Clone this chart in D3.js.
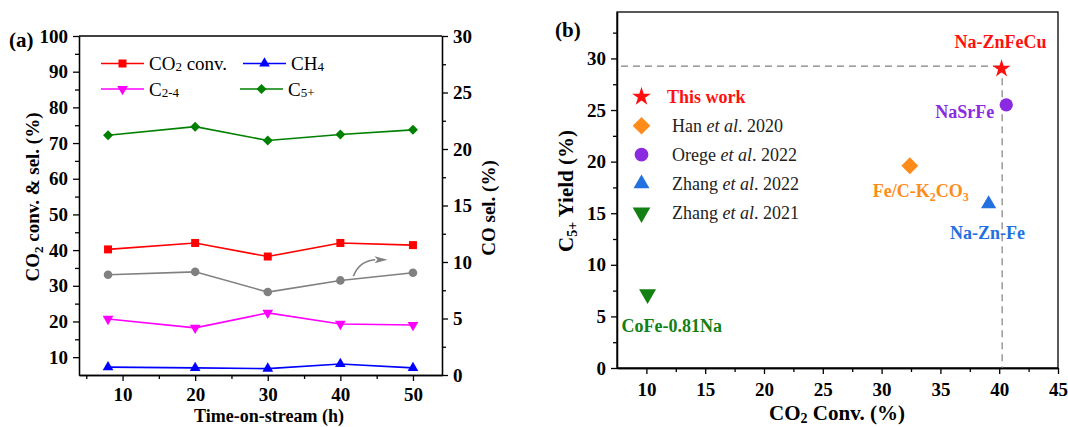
<!DOCTYPE html>
<html>
<head>
<meta charset="utf-8">
<script src="https://cdn.jsdelivr.net/npm/d3@7"></script>
<style>
  body { margin: 0; background: #fff; }
  svg { font-family: "Liberation Serif", "Times New Roman", serif; }
  .axis path, .axis line { stroke: #000; stroke-width: 1.3; }
  .axis text { font-size: 19px; font-weight: bold; fill: #000; font-family: "Liberation Serif", "Times New Roman", serif; }
</style>
</head>
<body>
<div id="chart"></div>
<script>
// panel (a) data: time on stream vs conversion / selectivity
var hours = [8, 20, 30, 40, 50];
var co2Conv = [40.2, 42.0, 38.2, 42.0, 41.4];
var ch4Sel = [7.2, 7.0, 6.8, 8.1, 7.0];
var c24Sel = [20.7, 18.2, 22.4, 19.3, 19.0];
var c5Sel = [72.2, 74.6, 70.7, 72.4, 73.7];
var coSel = [8.87, 9.13, 7.34, 8.37, 9.05]; // right axis

var xTicksA = [10, 20, 30, 40, 50];
var yTicksA = [10, 20, 30, 40, 50, 60, 70, 80, 90, 100];
var y2TicksA = [0, 5, 10, 15, 20, 25, 30];

// panel (b) data: literature comparison (same order as legend)
var catalysts = ["Na-ZnFeCu", "Fe/C-K2CO3", "NaSrFe", "Na-Zn-Fe", "CoFe-0.81Na"];
var references = ["This work", "Han et al. 2020", "Orege et al. 2022", "Zhang et al. 2022", "Zhang et al. 2021"];
var coConv = [40.2, 32.4, 40.6, 39.1, 10.1];
var c5Yield = [29.0, 19.6, 25.5, 15.9, 7.15];

var xTicksB = [10, 15, 20, 25, 30, 35, 40, 45];
var yTicksB = [0, 5, 10, 15, 20, 25, 30];

(function() {
  var width = 1068, height = 427;

  var svg = d3.select("#chart")
    .append("svg")
    .attr("width", width)
    .attr("height", height);

  function marker(g, x, y, type, size, rot, color) {
    g.append("path")
      .attr("d", d3.symbol().type(type).size(size)())
      .attr("transform", "translate(" + x + "," + y + ")" + (rot ? " rotate(" + rot + ")" : ""))
      .attr("fill", color);
  }

  // ===================== panel (a) =====================
  var xA = d3.scaleLinear().domain([4, 54]).range([79, 442]);
  var yA = d3.scaleLinear().domain([5, 100]).range([375, 36]);
  var yA2 = d3.scaleLinear().domain([0, 30]).range([375, 36]);

  var ga = svg.append("g");

  // frame top
  ga.append("line")
    .attr("x1", xA.range()[0]).attr("x2", xA.range()[1])
    .attr("y1", 36).attr("y2", 36)
    .attr("stroke", "#000").attr("stroke-width", 1.3);

  ga.append("g").attr("class", "axis")
    .attr("transform", "translate(0,375)")
    .call(d3.axisBottom(xA).tickValues(xTicksA).tickSize(6).tickSizeOuter(0).tickPadding(7));
  ga.append("g").attr("class", "axis")
    .attr("transform", "translate(0,375)")
    .call(d3.axisBottom(xA).tickValues([5, 15, 25, 35, 45]).tickSize(4).tickSizeOuter(0).tickFormat(""));

  ga.append("g").attr("class", "axis")
    .attr("transform", "translate(79,0)")
    .call(d3.axisLeft(yA).tickValues(yTicksA).tickSize(6).tickSizeOuter(0).tickPadding(5));
  ga.append("g").attr("class", "axis")
    .attr("transform", "translate(79,0)")
    .call(d3.axisLeft(yA).tickValues(d3.range(15, 100, 10)).tickSize(4).tickSizeOuter(0).tickFormat(""));

  ga.append("g").attr("class", "axis")
    .attr("transform", "translate(442,0)")
    .call(d3.axisRight(yA2).tickValues(y2TicksA).tickSize(6).tickSizeOuter(0).tickPadding(5));
  ga.append("g").attr("class", "axis")
    .attr("transform", "translate(442,0)")
    .call(d3.axisRight(yA2).tickValues(d3.range(2.5, 30, 5)).tickSize(4).tickSizeOuter(0).tickFormat(""));

  var seriesA = [
    { vals: co2Conv, scale: yA, color: "#ff0000", type: d3.symbolSquare, size: 64, rot: 0 },
    { vals: coSel, scale: yA2, color: "#808080", type: d3.symbolCircle, size: 58, rot: 0 },
    { vals: c24Sel, scale: yA, color: "#ff00ff", type: d3.symbolTriangle, size: 50, rot: 180 },
    { vals: ch4Sel, scale: yA, color: "#0000ff", type: d3.symbolTriangle, size: 50, rot: 0 },
    { vals: c5Sel, scale: yA, color: "#008000", type: d3.symbolSquare, size: 50, rot: 45 }
  ];

  seriesA.forEach(function(s) {
    var line = d3.line()
      .x(function(d, i) { return xA(hours[i]); })
      .y(function(d) { return s.scale(d); });
    ga.append("path")
      .datum(s.vals)
      .attr("d", line)
      .attr("fill", "none")
      .attr("stroke", s.color)
      .attr("stroke-width", 1.6);
    s.vals.forEach(function(d, i) {
      marker(ga, xA(hours[i]), s.scale(d), s.type, s.size, s.rot, s.color);
    });
  });

  // curved arrow pointing to right axis
  var p0 = [xA(41.8), yA2(8.75)], pc = [xA(42.6), yA2(10.1)], p1 = [xA(44.8), yA2(10.2)];
  var ap = d3.path();
  ap.moveTo(p0[0], p0[1]);
  ap.quadraticCurveTo(pc[0], pc[1], p1[0], p1[1]);
  ga.append("path").attr("d", ap.toString())
    .attr("fill", "none").attr("stroke", "#808080").attr("stroke-width", 1.6);
  var tip = [xA(46.5), yA2(10.2)];
  ga.append("path")
    .attr("d", "M" + tip[0] + "," + tip[1] +
      " L" + (tip[0] - 13) + "," + (tip[1] - 3.5) +
      " L" + (tip[0] - 10) + "," + tip[1] +
      " L" + (tip[0] - 13) + "," + (tip[1] + 3.5) + " Z")
    .attr("fill", "#808080");

  // legend (a)
  var legA = [
    { x: 101, y: 63.5, color: "#ff0000", type: d3.symbolSquare, size: 64, rot: 0, main: "CO", sub: "2", rest: " conv." },
    { x: 243, y: 63.5, color: "#0000ff", type: d3.symbolTriangle, size: 50, rot: 0, main: "CH", sub: "4", rest: "" },
    { x: 101, y: 89, color: "#ff00ff", type: d3.symbolTriangle, size: 50, rot: 180, main: "C", sub: "2-4", rest: "" },
    { x: 240, y: 89, color: "#008000", type: d3.symbolSquare, size: 50, rot: 45, main: "C", sub: "5+", rest: "" }
  ];
  legA.forEach(function(l) {
    ga.append("line")
      .attr("x1", l.x).attr("x2", l.x + 43)
      .attr("y1", l.y).attr("y2", l.y)
      .attr("stroke", l.color).attr("stroke-width", 1.6);
    marker(ga, l.x + 21.5, l.y, l.type, l.size, l.rot, l.color);
    var t = ga.append("text")
      .attr("x", l.x + 48).attr("y", l.y + 6.5)
      .attr("font-size", 19).attr("fill", "#000");
    t.append("tspan").text(l.main);
    t.append("tspan").attr("font-size", 13).attr("dy", 1).text(l.sub);
    if (l.rest) t.append("tspan").attr("dy", -1).text(l.rest);
  });

  // titles (a)
  svg.append("text").attr("x", 9).attr("y", 47)
    .attr("font-size", 21).attr("font-weight", "bold").text("(a)");

  var tl = svg.append("text")
    .attr("transform", "translate(39,197) rotate(-90)")
    .attr("text-anchor", "middle")
    .attr("font-size", 19).attr("font-weight", "bold");
  tl.append("tspan").text("CO");
  tl.append("tspan").attr("font-size", 13).attr("dy", 4).text("2");
  tl.append("tspan").attr("dy", -4).text(" conv. & sel. (%)");

  svg.append("text")
    .attr("transform", "translate(495,208) rotate(-90)")
    .attr("text-anchor", "middle")
    .attr("font-size", 19).attr("font-weight", "bold")
    .text("CO sel. (%)");

  svg.append("text")
    .attr("x", 269).attr("y", 422)
    .attr("text-anchor", "middle")
    .attr("font-size", 18).attr("font-weight", "bold")
    .text("Time-on-stream (h)");

  // ===================== panel (b) =====================
  var xB = d3.scaleLinear().domain([7.5, 45]).range([617, 1058]);
  var yB = d3.scaleLinear().domain([0, 34.5]).range([368, 12]);

  var gb = svg.append("g");

  gb.append("rect")
    .attr("x", 617).attr("y", 12)
    .attr("width", 1058 - 617).attr("height", 368 - 12)
    .attr("fill", "none").attr("stroke", "#000").attr("stroke-width", 1.3);

  gb.append("g").attr("class", "axis")
    .attr("transform", "translate(0,368)")
    .call(d3.axisBottom(xB).tickValues(xTicksB).tickSize(6).tickSizeOuter(0).tickPadding(9));
  gb.append("g").attr("class", "axis")
    .attr("transform", "translate(0,368)")
    .call(d3.axisBottom(xB).tickValues(d3.range(12.5, 45, 5)).tickSize(4).tickSizeOuter(0).tickFormat(""));

  gb.append("g").attr("class", "axis")
    .attr("transform", "translate(617,0)")
    .call(d3.axisLeft(yB).tickValues(yTicksB).tickSize(6).tickSizeOuter(0).tickPadding(5));
  gb.append("g").attr("class", "axis")
    .attr("transform", "translate(617,0)")
    .call(d3.axisLeft(yB).tickValues(d3.range(2.5, 34, 5)).tickSize(4).tickSizeOuter(0).tickFormat(""));

  // guide lines through this work
  gb.append("line")
    .attr("x1", xB(7.5) + 4).attr("x2", xB(40.25))
    .attr("y1", yB(29.25)).attr("y2", yB(29.25))
    .attr("stroke", "#808080").attr("stroke-width", 1.2).attr("stroke-dasharray", "7,5");
  gb.append("line")
    .attr("x1", xB(40.25)).attr("x2", xB(40.25))
    .attr("y1", yB(29.25)).attr("y2", yB(0))
    .attr("stroke", "#808080").attr("stroke-width", 1.2).attr("stroke-dasharray", "7,5");

  var colorsB = ["#ff1010", "#ff8c1a", "#8a2be2", "#2370e0", "#138013"];
  var shapesB = [
    { type: d3.symbolStar, size: 100, rot: 0 },
    { type: d3.symbolSquare, size: 145, rot: 45 },
    { type: d3.symbolCircle, size: 140, rot: 0 },
    { type: d3.symbolTriangle, size: 100, rot: 0 },
    { type: d3.symbolTriangle, size: 125, rot: 180 }
  ];
  // label placement relative to the point: dx, dy, anchor
  var labelPos = [[-1, -21, "middle"], [11, 31, "middle"], [-12, 13, "end"], [-1, 35, "middle"], [-26, 38, "start"]];

  catalysts.forEach(function(c, i) {
    var px = xB(coConv[i]), py = yB(c5Yield[i]);
    marker(gb, px, py, shapesB[i].type, shapesB[i].size, shapesB[i].rot, colorsB[i]);
    var t = gb.append("text")
      .attr("x", px + labelPos[i][0]).attr("y", py + labelPos[i][1])
      .attr("text-anchor", labelPos[i][2])
      .attr("font-size", 18).attr("font-weight", "bold")
      .attr("fill", colorsB[i]);
    if (c === "Fe/C-K2CO3") {
      t.append("tspan").text("Fe/C-K");
      t.append("tspan").attr("font-size", 12).attr("dy", 4).text("2");
      t.append("tspan").attr("dy", -4).text("CO");
      t.append("tspan").attr("font-size", 12).attr("dy", 4).text("3");
    } else {
      t.text(c);
    }
  });

  // legend (b)
  references.forEach(function(r, i) {
    var ly = 96.7 + i * 29;
    marker(gb, 641.5, ly, shapesB[i].type, shapesB[i].size + 10, shapesB[i].rot, colorsB[i]);
    var t = gb.append("text")
      .attr("x", i === 0 ? 667 : 672).attr("y", ly + 6)
      .attr("font-size", 18);
    if (i === 0) {
      t.attr("font-weight", "bold").attr("fill", colorsB[0]).text(r);
    } else {
      var parts = r.split(" ");
      t.attr("fill", "#222");
      t.append("tspan").text(parts[0] + " ");
      t.append("tspan").attr("font-style", "italic").text("et al");
      t.append("tspan").text(". " + parts[3]);
    }
  });

  // titles (b)
  svg.append("text").attr("x", 555).attr("y", 37)
    .attr("font-size", 21).attr("font-weight", "bold").text("(b)");

  var tb = svg.append("text")
    .attr("transform", "translate(573,191) rotate(-90)")
    .attr("text-anchor", "middle")
    .attr("font-size", 21).attr("font-weight", "bold");
  tb.append("tspan").text("C");
  tb.append("tspan").attr("font-size", 14).attr("dy", 4).text("5+");
  tb.append("tspan").attr("dy", -4).text(" Yield (%)");

  var xb = svg.append("text")
    .attr("x", 837).attr("y", 420)
    .attr("text-anchor", "middle")
    .attr("font-size", 21).attr("font-weight", "bold");
  xb.append("tspan").text("CO");
  xb.append("tspan").attr("font-size", 14).attr("dy", 3).text("2");
  xb.append("tspan").attr("dy", -3).text(" Conv. (%)");
})();
</script>
</body>
</html>
